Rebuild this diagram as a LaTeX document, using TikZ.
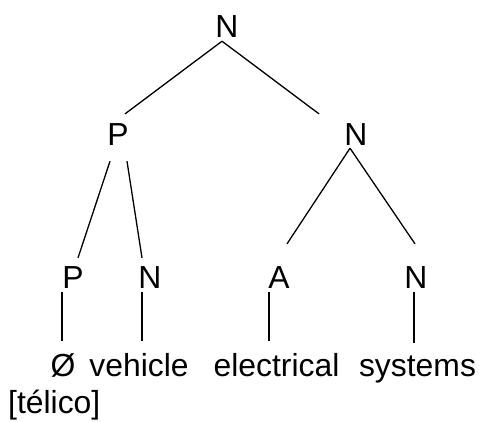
\documentclass[tikz,border=0pt]{standalone}
\usepackage{fontspec}
\setmainfont{Liberation Sans}
\usepackage{tikz}
\usetikzlibrary{positioning, calc}

\begin{document}
\begin{tikzpicture}[
    x=1bp, y=-1bp,
    every node/.style={font=\fontsize{32}{38}\selectfont, inner sep=0pt, anchor=base},
    cat/.style={},
    word/.style={},
    branch/.style={draw=black, line width=1.3bp}
  ]
    \useasboundingbox[fill=white] (0,0) rectangle (479,421);

    % Categories
    \node[cat] (root) at (227,37) {N};
    \node[cat] (p1) at (118,145) {P};
    \node[cat] (n1) at (356,145) {N};
    \node[cat] (p2) at (73,288) {P};
    \node[cat] (n2) at (150,288) {N};
    \node[cat] (a) at (279,288) {A};
    \node[cat] (n3) at (416,288) {N};

    % Words
    \node[word] (zero) at (63,376) {Ø};
    \node[word] (vehicle) at (139,376) {vehicle};
    \node[word] (electrical) at (276.5,376) {electrical};
    \node[word] (systems) at (417.5,376) {systems};
    \node[word, anchor=base west] (telico) at (8,413) {[télico]};

    % Branches
    \draw[branch] ([xshift=-5bp,yshift=-4bp]root.south) -- ([xshift=7bp,yshift=9bp]p1.north);
    \draw[branch] ([xshift=-5bp,yshift=-4bp]root.south) -- ([xshift=-37bp,yshift=9bp]n1.north);
    \draw[branch] ([xshift=-8bp,yshift=-16bp]p1.south) -- ([xshift=5bp,yshift=8bp]p2.north);
    \draw[branch] ([xshift=9bp,yshift=-16bp]p1.south) -- ([xshift=-8bp,yshift=8bp]n2.north);
    \draw[branch] ([xshift=-6bp,yshift=-3bp]n1.south) -- ([xshift=8bp,yshift=22bp]a.north);
    \draw[branch] ([xshift=-6bp,yshift=-3bp]n1.south) -- ([xshift=-1bp,yshift=22bp]n3.north);

    % Lexical links
    \draw[branch] ([xshift=-11bp,yshift=-4bp]p2.south) coordinate (s1) -- ($(s1 |- zero.north)+(0,-12)$);
    \draw[branch] ([xshift=-8bp,yshift=-4bp]n2.south) coordinate (s2) -- ($(s2 |- vehicle.north)+(0,-12)$);
    \draw[branch] ([xshift=-10bp,yshift=-4bp]a.south) coordinate (s3) -- ($(s3 |- electrical.north)+(0,-12)$);
    \draw[branch] ([xshift=-2bp,yshift=-4bp]n3.south) coordinate (s4) -- ($(s4 |- systems.north)+(0,-12)$);
  \end{tikzpicture}
\end{document}
